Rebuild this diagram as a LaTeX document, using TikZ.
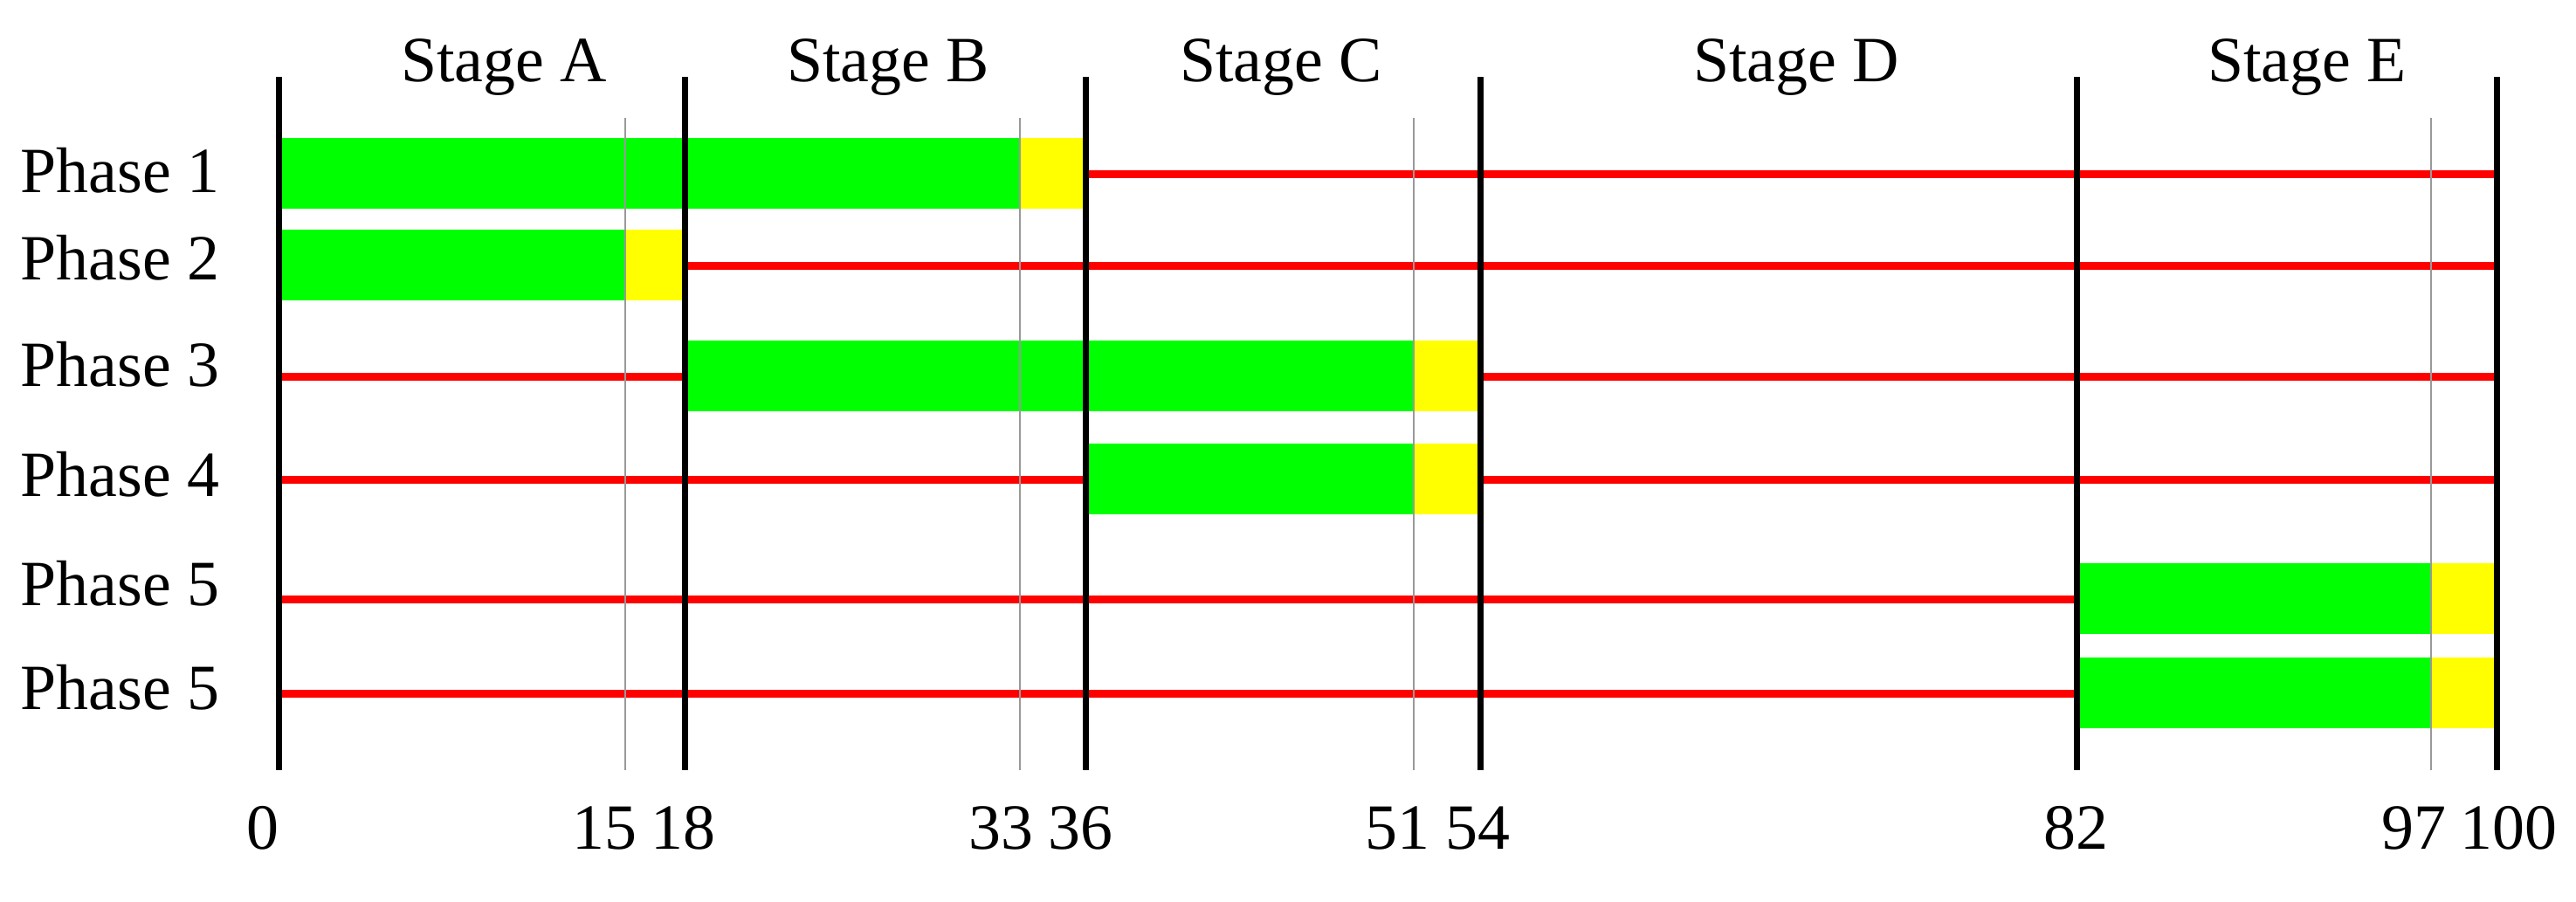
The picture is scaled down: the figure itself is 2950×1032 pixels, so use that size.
\documentclass[tikz,border=0pt]{standalone}
\usepackage{fontspec}
\setmainfont{Liberation Serif}
\usetikzlibrary{positioning}

\definecolor{busy}{RGB}{0,255,0}
\definecolor{spare}{RGB}{255,255,0}
\definecolor{idle}{RGB}{255,0,0}

\begin{document}
\begin{tikzpicture}[x=0.01cm,y=-0.01cm,
   every node/.style={font=\fontsize{21}{25}\selectfont,inner sep=0pt},
   stagelbl/.style={anchor=base},
   phaselbl/.style={anchor=base west},
   ticklbl/.style={anchor=base},
   busybar/.style={fill=busy},
   sparebar/.style={fill=spare},
   waitline/.style={draw=idle,line width=0.09cm},
   majorline/.style={draw=black,line width=0.07cm},
   minorline/.style={draw=black!40,line width=0.025cm}]
  \useasboundingbox (0,0) rectangle (2950,1032);

  % rows: centre / bar start / slack start / bar end
  \foreach \y/\a/\b/\c in {199/319/1168/1243, 304/319/716/784, 431/784/1619/1695,
                           549/1243/1619/1695, 686/2378/2784/2859, 794/2378/2784/2859} {
    \draw[waitline] (319,\y) -- (\a,\y);
    \fill[busybar] (\a,\y-41) rectangle (\b,\y+40);
    \fill[sparebar] (\b,\y-41) rectangle (\c,\y+40);
    \draw[waitline] (\c,\y) -- (2859,\y);
  }

  % grid
  \foreach \x in {716,1168,1619,2784}
    \draw[minorline] (\x,135) -- (\x,882);
  \foreach \x in {319,784,1243,1695,2378,2859}
    \draw[majorline] (\x,88) -- (\x,882);

  % stages
  \node[stagelbl] (stA) at (577,93) {Stage A};
  \node[stagelbl] (stB) at (1017,93) {Stage B};
  \node[stagelbl] (stC) at (1467,93) {Stage C};
  \node[stagelbl] (stD) at (2057,93) {Stage D};
  \node[stagelbl] (stE) at (2642,93) {Stage E};

  % phases
  \node[phaselbl] (ph1) at (23,220) {Phase 1};
  \node[phaselbl] (ph2) at (23,320) {Phase 2};
  \node[phaselbl] (ph3) at (23,442) {Phase 3};
  \node[phaselbl] (ph4) at (23,568) {Phase 4};
  \node[phaselbl] (ph5) at (23,693) {Phase 5};
  \node[phaselbl] (ph6) at (23,812) {Phase 5};

  % axis numbers
  \foreach \v/\x in {0/301,15/692,18/782,33/1146,36/1237,51/1600,54/1692,82/2377,97/2764,100/2873}
    \node[ticklbl] (n\v) at (\x,972) {\v};
\end{tikzpicture}
\end{document}
